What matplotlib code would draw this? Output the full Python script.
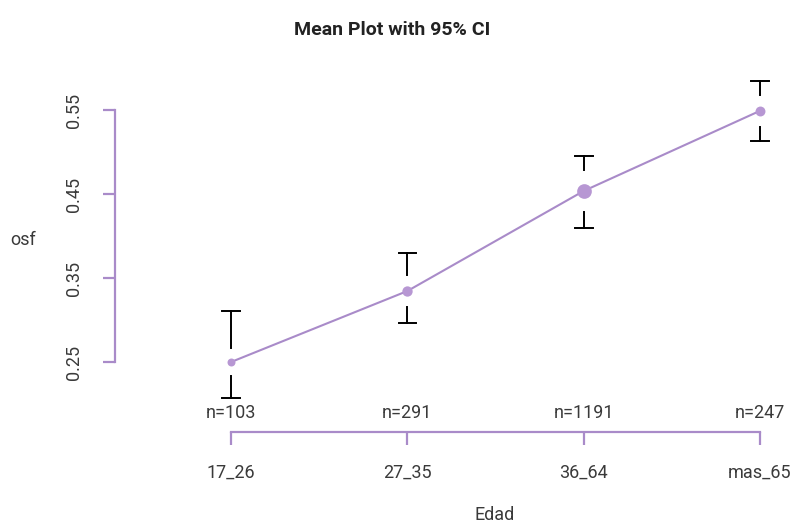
import matplotlib
matplotlib.use("Agg")
from matplotlib import pyplot as plt

plt.rcParams["font.family"] = ["Roboto", "DejaVu Sans"]

groups = ["17_26", "27_35", "36_64", "mas_65"]
counts = [103, 291, 1191, 247]
means = [0.250, 0.3345, 0.4536, 0.549]
ci_low = [0.207, 0.296, 0.4095, 0.513]
ci_high = [0.311, 0.380, 0.495, 0.585]

purple = "#a98bc9"
dot = "#b797d3"
txt = "#3a3a3a"

fig = plt.figure(figsize=(7.94, 5.31), dpi=100)
W, H = 794, 531
# axes box in pixels: left spine at x=115, bottom spine at y=432
ax = fig.add_axes([115 / W, (H - 432) / H, (790 - 115) / W, (432 - 60) / H])

xs = list(range(1, len(groups) + 1))
ax.set_xlim(0.342, 4.17)
ax.set_ylim(0.1667, 0.6095)

ax.plot(xs, means, color=purple, lw=1.5, zorder=2)

px_per_unit = 840.0
for x, m, lo, hi, n in zip(xs, means, ci_low, ci_high, counts):
    d = 2.5 * n ** 0.25  # dot diameter in px
    ax.plot(x, m, "o", ms=d / 1.389, color=dot, mec="none", zorder=3)
    gap = (d + 6) / px_per_unit
    ax.plot([x, x], [hi, m + gap], color="black", lw=1.4, zorder=1)
    ax.plot([x, x], [lo, m - gap], color="black", lw=1.4, zorder=1)
    cw = 0.05
    ax.plot([x - cw, x + cw], [hi, hi], color="black", lw=1.4)
    ax.plot([x - cw, x + cw], [lo, lo], color="black", lw=1.4)
    ax.text(x, 0.1667 + 10 / px_per_unit, "n=%d" % n, ha="center", va="bottom",
            fontsize=13, color=txt)

for s in ["top", "right"]:
    ax.spines[s].set_visible(False)
for s in ["left", "bottom"]:
    ax.spines[s].set_color(purple)
    ax.spines[s].set_linewidth(1.6)
ax.spines["left"].set_bounds(0.25, 0.55)
ax.spines["bottom"].set_bounds(1, 4)

ax.set_yticks([0.25, 0.35, 0.45, 0.55])
ax.set_yticklabels(["0.25", "0.35", "0.45", "0.55"], rotation=90, va="center")
ax.set_xticks(xs)
ax.set_xticklabels(groups)
ax.tick_params(axis="both", color=purple, width=1.6, length=9, labelsize=13,
               labelcolor=txt)
ax.tick_params(axis="y", pad=14)
ax.tick_params(axis="x", pad=14)

fig.text(10 / W, 1 - 240 / H, "osf", fontsize=13, color=txt, va="center")
fig.text(495 / W, 1 - 515 / H, "Edad", fontsize=13, color=txt,
         ha="center", va="center")
fig.text(392 / W, 1 - 30 / H, "Mean Plot with 95% CI", fontsize=14,
         fontweight="bold", color="#222222", ha="center", va="center")

fig.savefig("out.png", dpi=100)
